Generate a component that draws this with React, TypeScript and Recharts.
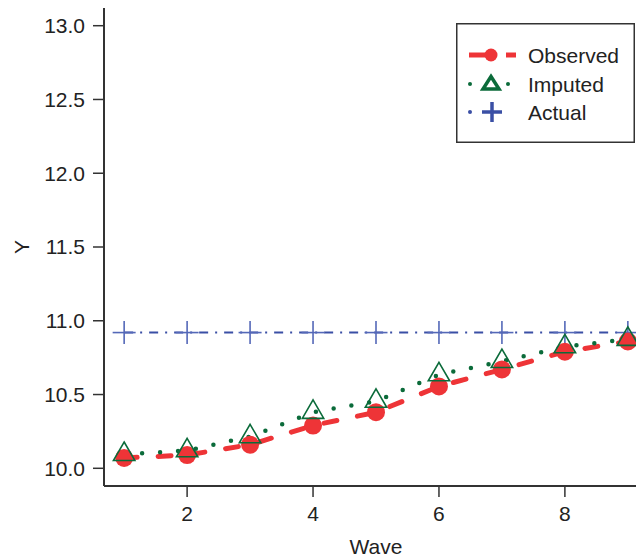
import React from 'react'
import { ComposedChart, Line, XAxis, YAxis, Legend } from 'recharts'

const waves = [1, 2, 3, 4, 5, 6, 7, 8, 9]
const observed = [10.07, 10.09, 10.16, 10.29, 10.38, 10.555, 10.67, 10.79, 10.86]
const imputed = [10.095, 10.12, 10.215, 10.38, 10.455, 10.635, 10.725, 10.825, 10.875]
const actual = [10.92, 10.92, 10.92, 10.92, 10.92, 10.92, 10.92, 10.92, 10.92]
const xTicks = [2, 4, 6, 8]
const yTicks = [10, 10.5, 11, 11.5, 12, 12.5, 13]

const RED = '#ee3437'
const GREEN = '#0b6b3a'
const BLUE = '#3a4fa5'
const CROSS = '#5468b8'
const INK = '#222'
const AXIS = '#333'
const FONT = '"Liberation Sans", Arial, Helvetica, sans-serif'

const data = waves.map((w, i) => ({
  wave: w,
  observed: observed[i],
  imputed: imputed[i],
  actual: actual[i],
}))

function CircleDot(props: any) {
  const { cx, cy, index } = props
  if (cx == null || cy == null) return null
  return <circle key={`c${index}`} cx={cx} cy={cy} r={9} fill={RED} />
}

function TriangleDot(props: any) {
  const { cx, cy, index } = props
  if (cx == null || cy == null) return null
  const r = 12.3
  const hw = 10.7
  const pts = `${cx},${cy - r} ${cx + hw},${cy + r / 2} ${cx - hw},${cy + r / 2}`
  return <polygon key={`t${index}`} points={pts} fill="none" stroke={GREEN} strokeWidth={1.6} />
}

function CrossDot(props: any) {
  const { cx, cy, index } = props
  if (cx == null || cy == null) return null
  const s = 11.5
  return (
    <g key={`x${index}`} stroke={CROSS} strokeWidth={1.6}>
      <line x1={cx - s} y1={cy} x2={cx + s} y2={cy} />
      <line x1={cx} y1={cy - s} x2={cx} y2={cy + s} />
    </g>
  )
}

function LegendBox() {
  const rows = [32, 61, 89]
  const textStyle = { fontSize: 21, fill: INK, fontFamily: FONT }
  return (
    <svg width={179} height={120} style={{ display: 'block' }}>
      <rect x={0.75} y={0.75} width={177.5} height={118.5} fill="#fff" stroke={AXIS} strokeWidth={1.5} />
      {/* Observed */}
      <line x1={13} y1={rows[0]} x2={34} y2={rows[0]} stroke={RED} strokeWidth={5} />
      <line x1={50} y1={rows[0]} x2={60} y2={rows[0]} stroke={RED} strokeWidth={5} />
      <circle cx={35} cy={rows[0]} r={6.5} fill={RED} />
      <text x={72} y={rows[0] + 7.5} {...textStyle}>Observed</text>
      {/* Imputed */}
      <circle cx={14} cy={rows[1]} r={2} fill={GREEN} />
      <circle cx={52} cy={rows[1]} r={2} fill={GREEN} />
      <polygon
        points={`35,${rows[1] - 7.5} 43,${rows[1] + 5} 27,${rows[1] + 5}`}
        fill="none"
        stroke={GREEN}
        strokeWidth={3.5}
      />
      <text x={72} y={rows[1] + 7.5} {...textStyle}>Imputed</text>
      {/* Actual */}
      <circle cx={14} cy={rows[2]} r={2} fill={BLUE} />
      <g stroke={BLUE} strokeWidth={3.5}>
        <line x1={26} y1={rows[2]} x2={46} y2={rows[2]} />
        <line x1={36} y1={rows[2] - 10} x2={36} y2={rows[2] + 10} />
      </g>
      <text x={72} y={rows[2] + 7.5} {...textStyle}>Actual</text>
    </svg>
  )
}

const tickStyle = { fontSize: 21, fill: INK, fontFamily: FONT }

export default function App() {
  return (
    <div
      style={{
        position: 'absolute',
        left: 0,
        top: 0,
        width: 636,
        height: 558,
        overflow: 'hidden',
        background: '#fff',
        fontFamily: FONT,
      }}
    >
      <ComposedChart width={660} height={558} data={data} margin={{ top: 8, right: 12, bottom: 8, left: 0 }}>
        <XAxis
          dataKey="wave"
          type="number"
          domain={[0.68, 9.32]}
          ticks={xTicks}
          interval={0}
          allowDataOverflow
          height={64}
          tickSize={11}
          tickMargin={9}
          tick={tickStyle}
          axisLine={{ stroke: AXIS, strokeWidth: 2 }}
          tickLine={{ stroke: AXIS, strokeWidth: 1.5 }}
          label={() => (
            <text x={376} y={554} textAnchor="middle" fontSize={21} fill={INK} fontFamily={FONT}>
              Wave
            </text>
          )}
        />
        <XAxis
          xAxisId="top"
          orientation="top"
          dataKey="wave"
          type="number"
          domain={[0.68, 9.32]}
          allowDataOverflow
          height={0}
          tick={false}
          tickLine={false}
          axisLine={{ stroke: AXIS, strokeWidth: 1.5 }}
        />
        <YAxis
          type="number"
          domain={[9.88, 13.12]}
          ticks={yTicks}
          interval={0}
          allowDataOverflow
          width={104}
          tickSize={11}
          tickMargin={8}
          tick={tickStyle}
          tickFormatter={(v: number) => v.toFixed(1)}
          axisLine={{ stroke: AXIS, strokeWidth: 2 }}
          tickLine={{ stroke: AXIS, strokeWidth: 1.5 }}
          label={() => (
            <text
              x={21}
              y={247}
              transform="rotate(-90 21 247)"
              textAnchor="middle"
              dominantBaseline="central"
              fontSize={21}
              fill={INK}
              fontFamily={FONT}
            >
              Y
            </text>
          )}
        />
        <Legend
          layout="vertical"
          align="center"
          verticalAlign="middle"
          wrapperStyle={{ position: 'absolute', left: 456, top: 23, width: 179, height: 120 }}
          content={() => <LegendBox />}
        />
        <Line
          dataKey="actual"
          type="linear"
          stroke={BLUE}
          strokeWidth={2}
          strokeDasharray="9 7 2 7"
          dot={CrossDot}
          activeDot={false}
          isAnimationActive={false}
        />
        <Line
          dataKey="observed"
          type="linear"
          stroke={RED}
          strokeWidth={5}
          strokeDasharray="13 21"
          strokeLinecap="round"
          dot={CircleDot}
          activeDot={false}
          isAnimationActive={false}
        />
        <Line
          dataKey="imputed"
          type="linear"
          stroke={GREEN}
          strokeWidth={4.5}
          strokeDasharray="0 18"
          strokeLinecap="round"
          dot={TriangleDot}
          activeDot={false}
          isAnimationActive={false}
        />
      </ComposedChart>
    </div>
  )
}
